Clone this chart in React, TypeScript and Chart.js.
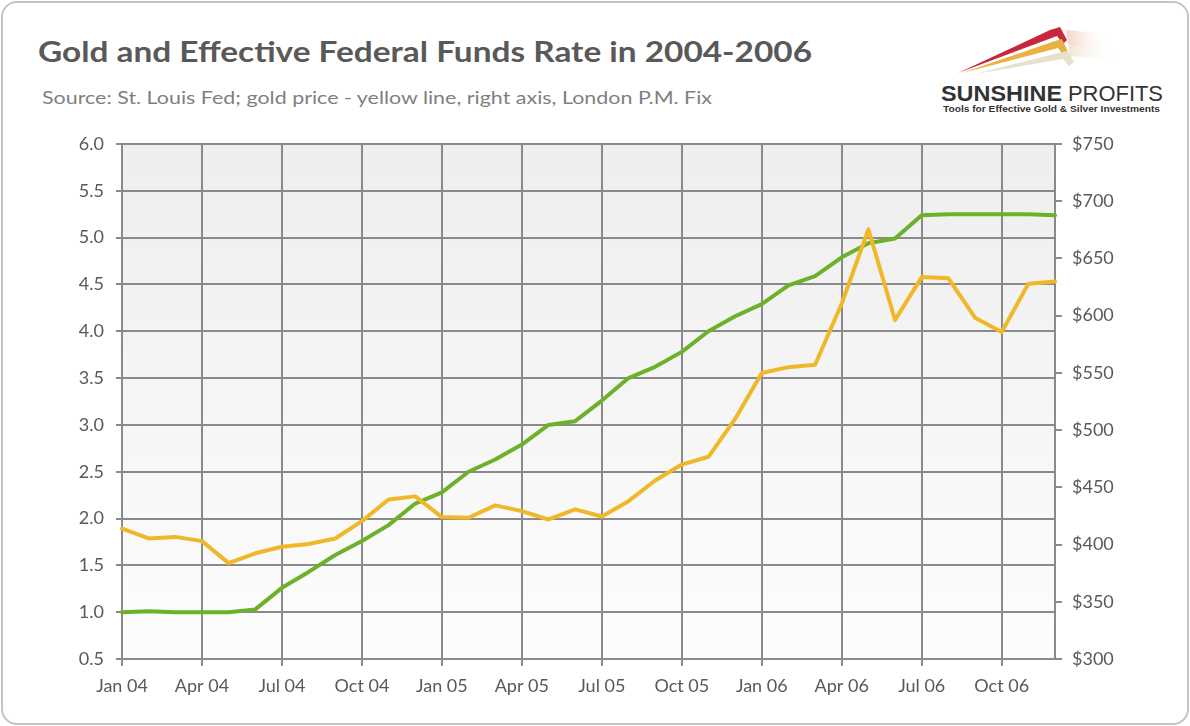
import { useEffect, useRef } from 'react';
import { Chart, registerables } from 'chart.js';

Chart.register(...registerables);

const categories = [
  'Jan 04', 'Feb 04', 'Mar 04', 'Apr 04', 'May 04', 'Jun 04', 'Jul 04', 'Aug 04', 'Sep 04', 'Oct 04', 'Nov 04', 'Dec 04',
  'Jan 05', 'Feb 05', 'Mar 05', 'Apr 05', 'May 05', 'Jun 05', 'Jul 05', 'Aug 05', 'Sep 05', 'Oct 05', 'Nov 05', 'Dec 05',
  'Jan 06', 'Feb 06', 'Mar 06', 'Apr 06', 'May 06', 'Jun 06', 'Jul 06', 'Aug 06', 'Sep 06', 'Oct 06', 'Nov 06', 'Dec 06',
];

const fedFundsRate = [
  1.0, 1.01, 1.0, 1.0, 1.0, 1.03, 1.26, 1.43, 1.61, 1.76, 1.93, 2.16,
  2.28, 2.5, 2.63, 2.79, 3.0, 3.04, 3.26, 3.5, 3.62, 3.78, 4.0, 4.16,
  4.29, 4.49, 4.59, 4.79, 4.94, 4.99, 5.24, 5.25, 5.25, 5.25, 5.25, 5.24,
];

const goldPrice = [
  414.0, 405.3, 406.7, 403.0, 383.8, 392.4, 398.1, 400.5, 405.3, 420.5, 439.4, 442.1,
  424.0, 423.4, 434.2, 429.2, 421.9, 430.7, 424.5, 437.9, 456.0, 469.9, 476.7, 509.8,
  549.9, 555.0, 557.1, 610.6, 675.4, 596.2, 633.7, 632.6, 598.2, 585.8, 627.8, 629.8,
];

const rateAxis = { min: 0.5, max: 6.0, step: 0.5 };
const goldAxis = { min: 300, max: 750, step: 50 };

const TITLE = 'Gold and Effective Federal Funds Rate in 2004-2006';
const SUBTITLE = 'Source: St. Louis Fed; gold price - yellow line, right axis, London P.M. Fix';

const FONT = 'Lato, "Open Sans", "DejaVu Sans", sans-serif';
const GRID = '#8a8a8a';
const TXT = '#595959';

export default function App() {
  const ref = useRef<HTMLCanvasElement>(null);

  useEffect(() => {
    if (!ref.current) return;
    const bgPlugin = {
      id: 'areaBg',
      beforeDraw(chart: any) {
        const { ctx, chartArea: a } = chart;
        const g = ctx.createLinearGradient(0, a.top, 0, a.bottom);
        g.addColorStop(0, '#eeeeee');
        g.addColorStop(1, '#fdfdfd');
        ctx.save();
        ctx.fillStyle = g;
        ctx.fillRect(a.left, a.top, a.right - a.left, a.bottom - a.top);
        ctx.restore();
      },
    };

    const tickFont = { family: FONT, size: 18 };

    const chart = new Chart(ref.current, {
      type: 'line',
      data: {
        labels: categories,
        datasets: [
          {
            label: 'Gold price',
            data: goldPrice,
            yAxisID: 'y1',
            borderColor: '#efb828',
            borderWidth: 4,
            pointRadius: 0,
            tension: 0,
            borderJoinStyle: 'round',
            borderCapStyle: 'round',
            fill: false,
          },
          {
            label: 'Effective Federal Funds Rate',
            data: fedFundsRate,
            yAxisID: 'y',
            borderColor: '#6bb22a',
            borderWidth: 4,
            pointRadius: 0,
            tension: 0,
            borderJoinStyle: 'round',
            borderCapStyle: 'round',
            fill: false,
          },
        ],
      },
      options: {
        animation: false,
        responsive: false,
        maintainAspectRatio: false,
        layout: { padding: { top: 144, left: 0, right: 0, bottom: 0 } },
        plugins: { legend: { display: false }, tooltip: { enabled: false }, title: { display: false } },
        scales: {
          x: {
            type: 'category',
            offset: false,
            grid: {
              color: (c: any) => (c.index % 3 === 0 ? GRID : 'rgba(0,0,0,0)'),
              lineWidth: 2,
              tickLength: 7,
              drawOnChartArea: true,
            },
            border: { display: true, color: GRID, width: 2 },
            ticks: {
              autoSkip: false,
              maxRotation: 0,
              minRotation: 0,
              color: TXT,
              font: tickFont,
              padding: 9,
              callback: (_v: any, i: number) => (i % 3 === 0 ? categories[i] : ''),
            },
            afterFit: (s: any) => {
              s.height = 67;
            },
          },
          y: {
            position: 'left',
            min: rateAxis.min,
            max: rateAxis.max,
            ticks: {
              stepSize: rateAxis.step,
              color: TXT,
              font: tickFont,
              padding: 12,
              callback: (v: any) => Number(v).toFixed(1),
            },
            grid: { color: GRID, lineWidth: 2, tickLength: 6 },
            border: { display: true, color: GRID, width: 2 },
            afterFit: (s: any) => {
              s.width = 122;
            },
          },
          y1: {
            position: 'right',
            min: goldAxis.min,
            max: goldAxis.max,
            ticks: {
              stepSize: goldAxis.step,
              color: TXT,
              font: tickFont,
              padding: 10,
              callback: (v: any) => '$' + v,
            },
            grid: { drawOnChartArea: false, color: GRID, lineWidth: 2, tickLength: 7 },
            border: { display: true, color: GRID, width: 2 },
            afterFit: (s: any) => {
              s.width = 135;
            },
          },
        },
      } as any,
      plugins: [bgPlugin],
    });
    return () => chart.destroy();
  }, []);

  return (
    <div style={{ position: 'absolute', left: 0, top: 0, width: 1190, height: 726, background: '#fff', overflow: 'hidden' }}>
      <div
        style={{
          position: 'absolute',
          left: 1,
          top: 1,
          width: 1188,
          height: 724,
          boxSizing: 'border-box',
          border: '2px solid #c4c4c4',
          borderRadius: 16,
        }}
      />
      <svg width={1190} height={726} style={{ position: 'absolute', left: 0, top: 0 }}>
        <defs>
          <linearGradient id="blur1" x1="0" x2="1" y1="0" y2="0">
            <stop offset="0" stopColor="#f3c9b8" stopOpacity="0.8" />
            <stop offset="1" stopColor="#ffffff" stopOpacity="0" />
          </linearGradient>
          <linearGradient id="blur2" x1="0" x2="1" y1="0" y2="0">
            <stop offset="0" stopColor="#f0dcc0" stopOpacity="0.8" />
            <stop offset="1" stopColor="#ffffff" stopOpacity="0" />
          </linearGradient>
        </defs>
        <text x={38} y={62} fontFamily={FONT} fontWeight={700} fontSize={28} fill="#595959" textLength={774} lengthAdjust="spacingAndGlyphs">
          {TITLE}
        </text>
        <text x={42} y={104} fontFamily={FONT} fontSize={18} fill="#7f7f7f" textLength={670} lengthAdjust="spacingAndGlyphs">
          {SUBTITLE}
        </text>
        {/* logo swooshes */}
        <polygon points="1066,30 1110,34 1110,46 1068,44" fill="url(#blur1)" />
        <polygon points="1068,42 1115,48 1115,60 1070,56" fill="url(#blur2)" />
        <polygon points="958,73 1050,30 1060,27 1067,40 1063,44 1057,36" fill="#c8283e" />
        <polygon points="962,73 1052,42 1062,39 1068,52 1064,56 1058,48" fill="#e9b044" />
        <polygon points="975,74 1058,53 1068,51 1074,62 1069,66 1063,59" fill="#e6e1cc" />
        <text x={941} y={101} fontFamily='"Liberation Sans", Arial, sans-serif' fontWeight={700} fontSize={22} fill="#333333" textLength={121} lengthAdjust="spacingAndGlyphs">
          SUNSHINE
        </text>
        <text x={1068} y={101} fontFamily='"Liberation Sans", Arial, sans-serif' fontSize={22} fill="#333333" textLength={95} lengthAdjust="spacingAndGlyphs">
          PROFITS
        </text>
        <text x={943} y={112} fontFamily='"Liberation Sans", Arial, sans-serif' fontWeight={700} fontSize={9.5} fill="#333333" textLength={217} lengthAdjust="spacingAndGlyphs">
          Tools for Effective Gold &amp; Silver Investments
        </text>
      </svg>
      <canvas ref={ref} width={1190} height={726} style={{ position: 'absolute', left: 0, top: 0, width: 1190, height: 726 }} />
    </div>
  );
}
